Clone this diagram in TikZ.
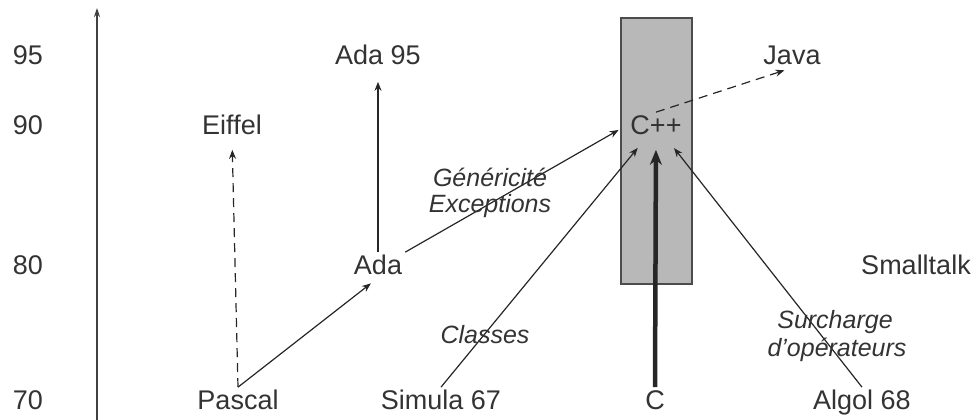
\documentclass[tikz,border=0pt]{standalone}
\usepackage{fontspec}
\setmainfont{Liberation Sans}
\usetikzlibrary{arrows.meta}

\definecolor{boxgray}{HTML}{B8B8B8}

\begin{document}
\begin{tikzpicture}[x=1pt, y=-1pt,
    lang/.style={text=black!80, font=\fontsize{27}{30}\selectfont,
      inner sep=3pt, text height=19.3pt, text depth=0pt},
    note/.style={text=black!80, font=\fontsize{25}{29}\selectfont\itshape,
      inner sep=0pt},
    link/.style={-{Stealth[length=9pt, width=7pt]}, black!85, line width=1.2pt},
    future/.style={link, dash pattern=on 9pt off 6pt}]
  \useasboundingbox (0,0) rectangle (978,420);
  % time axis
  \coordinate (axisbot) at (97,420);
  \coordinate (axistop) at (97,8);
  \draw[-{Stealth[length=9pt, width=6pt]}, black!75, line width=1.5pt]
    (axisbot) -- (axistop);
  \foreach \yr/\y in {95/55, 90/125, 80/265, 70/400}
    \node[lang] (year\yr) at (28,\y) {\yr};
  % C++ box
  \fill[boxgray, draw=black!70, line width=1.2pt] (621,18) rectangle (692,284);
  % languages
  \node[lang] (eiffel)  at (232,125) {Eiffel};
  \node[lang] (ada95)   at (378,55)  {Ada 95};
  \node[lang] (java)    at (792,55)  {Java};
  \node[lang] (cpp)     at (656,125) {C++};
  \node[lang] (ada)     at (378,265) {Ada};
  \node[lang] (smalltalk) at (916,265) {Smalltalk};
  \node[lang] (pascal)  at (238,400) {Pascal};
  \node[lang] (simula)  at (441,400) {Simula 67};
  \node[lang] (c)       at (655,400) {C};
  \node[lang] (algol)   at (862,400) {Algol 68};
  % influences
  \draw[future, shorten >=12pt] (pascal.north) -- (eiffel.south);
  \draw[link, shorten >=9pt] (pascal.north) -- (ada.south);
  \draw[link, shorten >=14pt] (ada.north) -- (ada95.south);
  \draw[link, shorten >=10pt] (ada.north east) -- (cpp.west);
  \draw[future, shorten >=8pt] (cpp.north) -- (java.south);
  \draw[link, shorten >=13pt] (simula.north) -- ([xshift=-10pt]cpp.south);
  \draw[link, line width=4.5pt, -{Stealth[length=15pt, width=12pt]},
    shorten >=12pt] (c.north) -- (cpp.south);
  \draw[link, shorten >=13pt] (algol.north) -- ([xshift=10pt]cpp.south);
  % what was taken over
  \node[note] (generic) at (490,177) {Généricité};
  \node[note] (except)  at (490,206) {Exceptions};
  \node[note] (classes) at (485,335) {Classes};
  \node[note] (overload) at (835,322) {Surcharge};
  \node[note] (operators) at (837,350) {d'opérateurs};
\end{tikzpicture}
\end{document}
